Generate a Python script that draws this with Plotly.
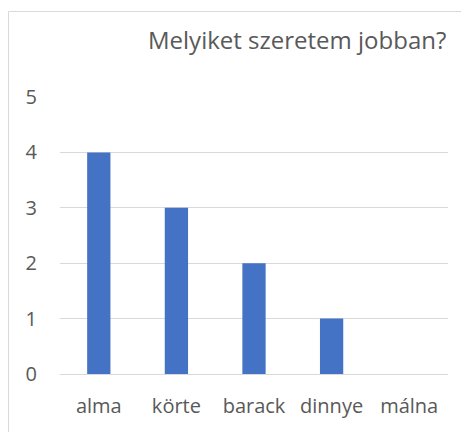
import plotly.graph_objects as go

categories = ["alma", "körte", "barack", "dinnye", "málna"]
values = [4, 3, 2, 1, 0]
title_text = "Melyiket szeretem jobban?"

W, H = 469, 432
OFF = 8  # page body margin shifts the figure
# plot area in reference pixel coordinates
PX0, PX1, PY0, PY1 = 60, 448, 97, 374
L, R, T, B = PX0 - OFF, W - (PX1 - OFF), PY0 - OFF, H - (PY1 - OFF)
pw, ph = PX1 - PX0, PY1 - PY0

def px_x(x):
    return (x - PX0) / pw

def px_y(y):
    return (PY1 - y) / ph

grey = "#595959"
font = "Open Sans"

fig = go.Figure(go.Bar(x=categories, y=values, marker=dict(color="#4472C4", line=dict(width=0)), width=0.3))

fig.update_layout(
    width=W, height=H,
    margin=dict(l=L, r=R, t=T, b=B),
    paper_bgcolor="white", plot_bgcolor="white",
    showlegend=False,
    font=dict(family=font, color=grey, size=20),
    xaxis=dict(showgrid=False, showline=False, ticks="", tickfont=dict(size=20), ticklabelstandoff=18),
    yaxis=dict(range=[0, 5], dtick=1, showgrid=True, gridcolor="#d9d9d9", gridwidth=1,
               zeroline=True, zerolinecolor="#d9d9d9", zerolinewidth=1, showline=False, ticks="",
               tickfont=dict(size=20), ticklabelstandoff=22),
    annotations=[dict(text=title_text, xref="paper", yref="paper", x=px_x(448), y=px_y(40),
                      xanchor="right", yanchor="middle", showarrow=False,
                      font=dict(size=24, color=grey, family=font))],
    shapes=[dict(type="rect", xref="paper", yref="paper", x0=px_x(8.5), x1=px_x(480), y0=px_y(11.5), y1=px_y(450),
                 line=dict(color="#d9d9d9", width=1), layer="below")],
)

fig.write_html("out.html")
